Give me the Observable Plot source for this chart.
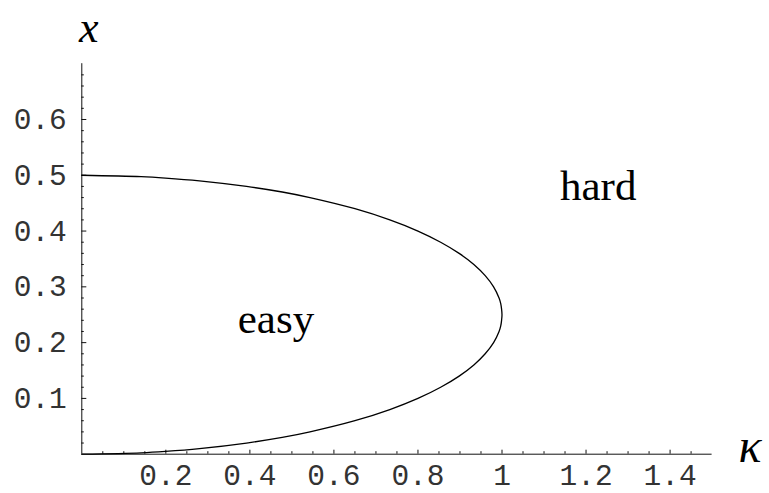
<!DOCTYPE html>
<html>
<head>
<meta charset="utf-8">
<script src="https://cdn.jsdelivr.net/npm/d3@7"></script>
<script src="https://cdn.jsdelivr.net/npm/@observablehq/plot@0.6"></script>
<style>
  html, body { margin: 0; padding: 0; background: #fff; }
  #chart svg { display: block; }
</style>
</head>
<body>
<div id="chart"></div>
<script>
// Boundary curve (x value, kappa value)
const curveX = [0, 0.0025, 0.005, 0.01, 0.02, 0.03, 0.04, 0.06, 0.08, 0.10, 0.12, 0.14, 0.16, 0.18, 0.20, 0.22, 0.23, 0.24, 0.25,
                0.26, 0.27, 0.28, 0.30, 0.32, 0.34, 0.36, 0.38, 0.40, 0.42, 0.44, 0.46, 0.47, 0.48, 0.49, 0.495, 0.4975, 0.50];
const curveK = [0, 0.141, 0.199, 0.28, 0.392, 0.477, 0.543, 0.650, 0.733, 0.800, 0.854, 0.898, 0.933, 0.960, 0.980, 0.993, 0.997, 0.999, 1.0,
                0.999, 0.997, 0.993, 0.980, 0.960, 0.933, 0.898, 0.854, 0.800, 0.733, 0.650, 0.543, 0.477, 0.392, 0.28, 0.199, 0.141, 0];

const xTickMajor = [0.2, 0.4, 0.6, 0.8, 1.0, 1.2, 1.4];
const xTickLabels = ["0.2", "0.4", "0.6", "0.8", "1", "1.2", "1.4"];
const xTickMinor = [0.05, 0.1, 0.15, 0.25, 0.3, 0.35, 0.45, 0.5, 0.55, 0.65, 0.7, 0.75, 0.85, 0.9, 0.95,
                    1.05, 1.1, 1.15, 1.25, 1.3, 1.35, 1.45];
const yTickMajor = [0.1, 0.2, 0.3, 0.4, 0.5, 0.6];
const yTickLabels = ["0.1", "0.2", "0.3", "0.4", "0.5", "0.6"];
const yTickMinor = [0.02, 0.04, 0.06, 0.08, 0.12, 0.14, 0.16, 0.18, 0.22, 0.24, 0.26, 0.28,
                    0.32, 0.34, 0.36, 0.38, 0.42, 0.44, 0.46, 0.48, 0.52, 0.54, 0.56, 0.58,
                    0.62, 0.64, 0.66, 0.68];

const regionNames = ["easy", "hard"];
const regionK = [0.462, 1.229];
const regionX = [0.218, 0.456];

const curve = curveX.map((x, i) => ({k: curveK[i], x}));
const regions = regionNames.map((t, i) => ({t, k: regionK[i], x: regionX[i]}));

const mono = "'Liberation Mono', 'Courier New', monospace";
const serif = "'Liberation Serif', 'Times New Roman', serif";

const chart = Plot.plot({
  width: 769,
  height: 493,
  marginLeft: 81.3,
  marginRight: 57.4,
  marginTop: 63.2,
  marginBottom: 39.3,
  x: {domain: [0, 1.5], axis: null},
  y: {domain: [0, 0.7], axis: null},
  style: {background: "#fff", overflow: "visible"},
  marks: [
    // axes lines
    Plot.ruleY([0], {stroke: "#111", strokeWidth: 1}),
    Plot.ruleX([0], {stroke: "#111", strokeWidth: 1}),
    // inward ticks
    Plot.axisX({ticks: xTickMajor, tickSize: -4, tickFormat: () => "", label: null, anchor: "bottom", stroke: "#111"}),
    Plot.axisX({ticks: xTickMinor, tickSize: -2.5, tickFormat: () => "", label: null, anchor: "bottom", stroke: "#111"}),
    Plot.axisY({ticks: yTickMajor, tickSize: -5, tickFormat: () => "", label: null, anchor: "left", stroke: "#111"}),
    Plot.axisY({ticks: yTickMinor, tickSize: -2.5, tickFormat: () => "", label: null, anchor: "left", stroke: "#111"}),
    // tick labels
    Plot.text(xTickMajor, {x: d => d, y: () => 0, text: (d, i) => xTickLabels[i], dy: 21,
      fontFamily: mono, fontSize: 29.5, fill: "#333", textAnchor: "middle"}),
    Plot.text(yTickMajor, {x: () => 0, y: d => d, text: (d, i) => yTickLabels[i], dx: -15,
      fontFamily: mono, fontSize: 29.5, fill: "#333", textAnchor: "end"}),
    // boundary curve
    Plot.line(curve, {x: "k", y: "x", stroke: "#000", strokeWidth: 1.3, curve: "catmull-rom"}),
    // region labels
    Plot.text(regions, {x: "k", y: "x", text: "t", fontFamily: serif, fontSize: 43,
      lineAnchor: "bottom", textAnchor: "middle", fill: "#000"}),
    // axis labels
    Plot.text(["κ"], {x: () => 1.5, y: () => 0, text: d => d, dx: 38, dy: 8, lineAnchor: "bottom",
      fontFamily: serif, fontStyle: "italic", fontSize: 48, fill: "#000"}),
    Plot.text(["x"], {x: () => 0, y: () => 0.7, text: d => d, dx: 7, dy: -22, lineAnchor: "bottom",
      fontFamily: serif, fontStyle: "italic", fontSize: 44, fill: "#000"})
  ]
});
document.getElementById("chart").appendChild(chart);
</script>
</body>
</html>
